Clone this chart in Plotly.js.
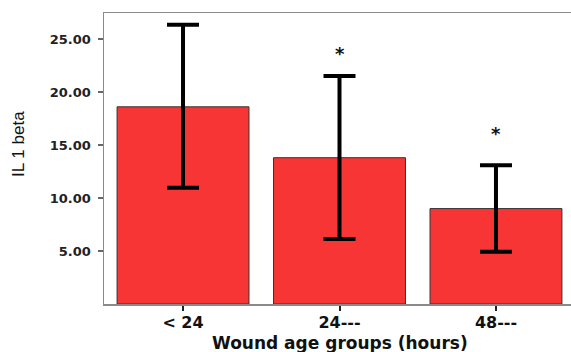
<!DOCTYPE html>
<html>
<head>
<meta charset="utf-8">
<script src="https://cdn.plot.ly/plotly-3.0.1.min.js"></script>
<style>html,body{margin:0;padding:0;overflow:hidden;background:#fff;}#chart{width:580px;height:352px;}</style>
</head>
<body>
<div id="chart"></div>
<script>
var categories = ["< 24", "24---", "48---"];
var meanValues = [18.6, 13.8, 9.0];
var errPlus = [7.75, 7.7, 4.1];
var errMinus = [7.63, 7.67, 4.07];
var yTickValues = [5, 10, 15, 20, 25];
var yTickLabels = ["5.00", "10.00", "15.00", "20.00", "25.00"];
var markCategories = ["24---", "48---"];
var markValues = [23.65, 16.1];
var markText = "<b>*</b>";
var yTitleText = "IL 1 beta";
var xTitleText = "<b>Wound age groups (hours)</b>";

var trace = {
  type: "bar",
  x: categories,
  y: meanValues,
  width: 0.843,
  marker: {color: "#f83535", line: {color: "#333333", width: 1}},
  error_y: {type: "data", symmetric: false, array: errPlus, arrayminus: errMinus,
            color: "#000000", thickness: 4, width: 16},
  hoverinfo: "none"
};

var annotations = markCategories.map(function (c, i) {
  return {x: c, y: markValues[i], xref: "x", yref: "y", text: markText, showarrow: false,
          font: {family: "DejaVu Sans", size: 18, color: "#111"}};
});
annotations.push({
  xref: "paper", yref: "paper", x: -85 / 471, y: 0.55, xanchor: "center", yanchor: "middle",
  text: yTitleText, textangle: -90, showarrow: false,
  font: {family: "Liberation Sans", size: 17, color: "#111"}
});
annotations.push({
  xref: "paper", yref: "paper", x: (340 - 104) / 471, y: -39 / 291, xanchor: "center", yanchor: "middle",
  text: xTitleText, showarrow: false,
  font: {family: "DejaVu Sans", size: 17, color: "#111"}
});

var layout = {
  width: 580, height: 352,
  margin: {l: 104, r: 5, t: 13, b: 48},
  paper_bgcolor: "#ffffff", plot_bgcolor: "#ffffff",
  showlegend: false,
  xaxis: {
    range: [-0.505, 2.505],
    showgrid: false, zeroline: false,
    showline: true, mirror: true, linecolor: "#8a8a8a", linewidth: 1.5,
    ticks: "outside", ticklen: 5, tickwidth: 2, tickcolor: "#222",
    ticklabelstandoff: -2,
    tickfont: {family: "DejaVu Sans", size: 16, color: "#111", weight: "bold"}
  },
  yaxis: {
    range: [0, 27.45],
    showgrid: false, zeroline: false,
    showline: true, mirror: true, linecolor: "#8a8a8a", linewidth: 1.5,
    ticks: "outside", ticklen: 5, tickwidth: 1.5, tickcolor: "#666",
    ticklabelstandoff: 4,
    tickvals: yTickValues, ticktext: yTickLabels,
    tickfont: {family: "DejaVu Sans", size: 13, color: "#222", weight: "bold"}
  },
  annotations: annotations
};

Plotly.newPlot("chart", [trace], layout, {staticPlot: true, displayModeBar: false});
</script>
</body>
</html>
